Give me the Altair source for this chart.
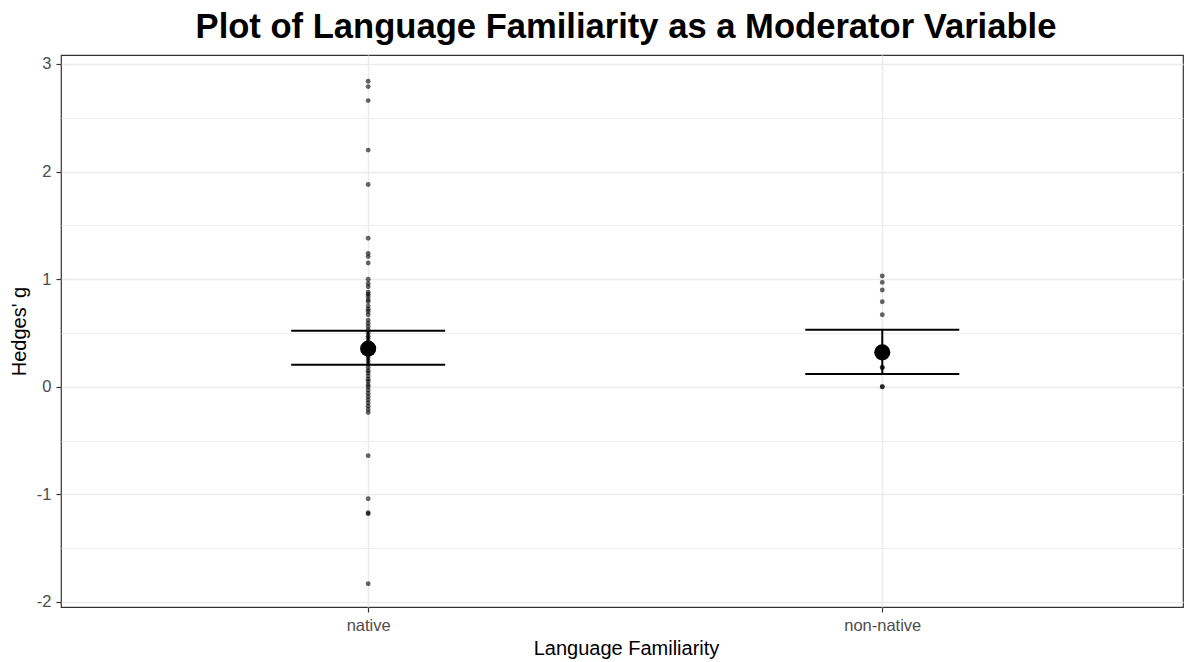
import altair as alt
import pandas as pd

# Individual effect sizes (Hedges' g) per group
native_g = [2.84, 2.79, 2.66, 2.20, 1.88, 1.38, 1.24, 1.21, 1.15, 1.00, 0.96, 0.93,
            0.88, 0.86, 0.84, 0.81, 0.79, 0.75, 0.72, 0.70, 0.67, 0.62, 0.59, 0.56,
            0.53, 0.50, 0.47, 0.45, 0.42, 0.40, 0.38, 0.35, 0.33, 0.30, 0.27, 0.24,
            0.21, 0.18, 0.15, 0.13, 0.10, 0.07, 0.05, 0.02, 0.00, -0.03, -0.06, -0.09,
            -0.12, -0.15, -0.18, -0.21, -0.24, -0.64, -1.04, -1.17, -1.18, -1.83]
nonnative_g = [1.03, 0.97, 0.90, 0.79, 0.67, 0.18, 0.18, 0.00, 0.00]

# Summary estimates with confidence intervals
groups = ["native", "non-native"]
means = [0.355, 0.32]
ci_low = [0.205, 0.12]
ci_high = [0.52, 0.53]

points = pd.DataFrame({
    "group": ["native"] * len(native_g) + ["non-native"] * len(nonnative_g),
    "g": native_g + nonnative_g,
})
summary = pd.DataFrame({"group": groups, "mean": means, "lo": ci_low, "hi": ci_high})

FONT = "Liberation Sans"
W, H = 1122, 552

x_enc = alt.X("group:N", title="Language Familiarity",
              scale=alt.Scale(type="point", padding=0.5912, align=0.5053),
              axis=alt.Axis(labelAngle=0, labelFontSize=16.5, labelColor="#4d4d4d",
                            titleFontSize=20, titleFontWeight="normal", titleColor="black",
                            titlePadding=5, labelPadding=5, titleX=565, titleAlign="center",
                            tickSize=5, tickColor="#333333", tickWidth=1.2, domain=False,
                            grid=True, gridColor="#ebebeb", gridWidth=1.5))

y_scale = alt.Scale(domain=[-2.0465, 3.0836], nice=False, zero=False)
y_axis = alt.Axis(values=[-2, -1.5, -1, -0.5, 0, 0.5, 1, 1.5, 2, 2.5, 3],
                  labelExpr="datum.value % 1 === 0 ? toString(datum.value) : ''",
                  labelFontSize=16.5, labelColor="#4d4d4d",
                  titleFontSize=20, titleFontWeight="normal", titleColor="black",
                  titlePadding=7, labelPadding=5,
                  tickSize=5, tickColor="#333333", tickWidth=1.2, domain=False,
                  tickOpacity={"condition": {"test": "datum.value % 1 === 0", "value": 1}, "value": 0},
                  grid=True, gridColor="#ebebeb",
                  gridWidth={"condition": {"test": "datum.value % 1 === 0", "value": 1.5}, "value": 0.8})

pts = alt.Chart(points).mark_circle(size=24, color="black", opacity=0.6).encode(
    x=x_enc,
    y=alt.Y("g:Q", title="Hedges' g", scale=y_scale, axis=y_axis),
)

vline = alt.Chart(summary).mark_rule(color="black", strokeWidth=2).encode(
    x=alt.X("group:N"), y=alt.Y("lo:Q"), y2="hi:Q")

tick_lo = alt.Chart(summary).mark_tick(color="black", opacity=1, thickness=2, size=154,
                                       orient="horizontal").encode(
    x=alt.X("group:N"), y=alt.Y("lo:Q"))
tick_hi = alt.Chart(summary).mark_tick(color="black", opacity=1, thickness=2, size=154,
                                       orient="horizontal").encode(
    x=alt.X("group:N"), y=alt.Y("hi:Q"))

mean_pt = alt.Chart(summary).mark_circle(size=260, color="black", opacity=1).encode(
    x=alt.X("group:N"), y=alt.Y("mean:Q"))

chart = alt.layer(pts, vline, tick_lo, tick_hi, mean_pt).properties(
    width=W, height=H,
    autosize=alt.AutoSizeParams(type="none"),
    padding={"left": 53, "top": 47, "right": 1, "bottom": 55},
    title=alt.Title("Plot of Language Familiarity as a Moderator Variable",
                    fontSize=34.6, fontWeight="bold", font=FONT, color="black",
                    anchor="middle", offset=9, dx=4),
).configure(font=FONT).configure_view(stroke="#333333", strokeWidth=1.2)

chart.save("out.html", embed_options={"renderer": "svg", "actions": False})
